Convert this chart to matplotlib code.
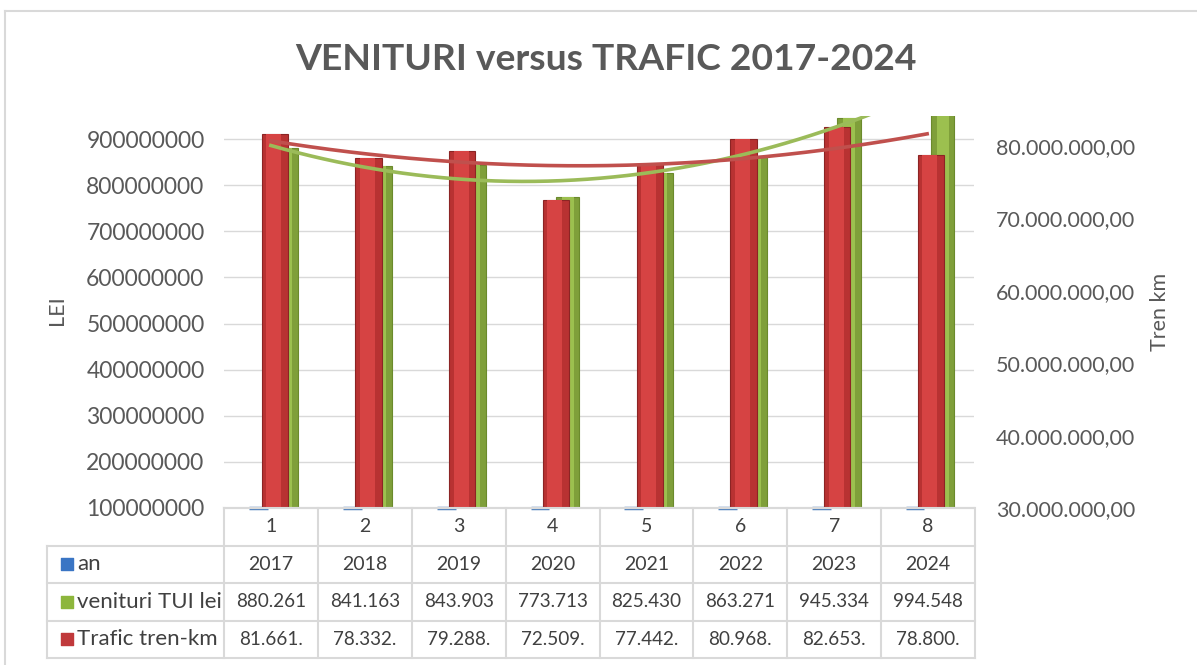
import numpy as np
import matplotlib
matplotlib.use("Agg")
import matplotlib.pyplot as plt
import matplotlib.ticker as mticker

plt.rcParams['font.family'] = ['Lato', 'DejaVu Sans']

# data
categories = [1, 2, 3, 4, 5, 6, 7, 8]
an = [2017, 2018, 2019, 2020, 2021, 2022, 2023, 2024]
venituri = [880261000, 841163000, 843903000, 773713000,
            825430000, 863271000, 945334000, 994548000]
trafic = [81661000, 78332000, 79288000, 72509000,
          77442000, 80968000, 82653000, 78800000]
venituri_txt = ['880.261', '841.163', '843.903', '773.713',
                '825.430', '863.271', '945.334', '994.548']
trafic_txt = ['81.661.', '78.332.', '79.288.', '72.509.',
              '77.442.', '80.968.', '82.653.', '78.800.']
row_labels = ['an', 'venituri TUI lei', 'Trafic tren-km']

GRAY = '#595959'
TXT = '#404040'
LINE = '#d9d9d9'
W, H = 1197, 665

fig = plt.figure(figsize=(W / 100, H / 100), dpi=100, facecolor='w')

# chart border
fig.add_artist(plt.Line2D([5 / W, 5 / W], [0, 1 - 11 / H], color=LINE, lw=1.5))
fig.add_artist(plt.Line2D([5 / W, 1], [1 - 11 / H, 1 - 11 / H], color=LINE, lw=1.5))

x = np.array(categories, dtype=float)
ax = fig.add_axes([224 / W, 1 - 508 / H, 750 / W, 392 / H])
ax2 = ax.twinx()

Y_MIN, Y_MAX = 100e6, 950e6
ax.set_xlim(0.5, 8.5)
ax.set_ylim(Y_MIN, Y_MAX)
ax2.set_ylim(30e6, 84.14e6)

# green bars (left axis), behind
ax.bar(x + 0.165, venituri, width=0.25, color='#7f9f3a', edgecolor='#6b8a2c', lw=0.8, zorder=2)
ax.bar(x + 0.165, venituri, width=0.13, color='#9cc04f', lw=0, zorder=2.1)
# blue "an" bars, a sliver at the floor
ax.bar(x - 0.13, an, width=0.2, bottom=Y_MIN, color='#4f81bd', edgecolor='#4f81bd',
       lw=2.5, clip_on=False, zorder=2)

# red bars (right axis), front
ax2.bar(x + 0.04, trafic, width=0.28, color='#b83232', edgecolor='#8c2424', lw=0.8, zorder=2)
ax2.bar(x + 0.03, trafic, width=0.16, color='#d64343', lw=0, zorder=2.1)

# polynomial (order 2) trendlines
xt = np.linspace(1, 8, 200)
pv = np.polyfit(x, venituri, 2)
pt = np.polyfit(x, trafic, 2)
ax2.plot(xt, np.polyval(pv, xt), color='#9bbb59', lw=2.6, transform=ax.transData, zorder=5)
ax2.plot(xt, np.polyval(pt, xt), color='#c0504d', lw=2.6, zorder=5)

# axes styling
ax.yaxis.set_major_locator(mticker.MultipleLocator(100e6))
ax.yaxis.set_major_formatter(mticker.FuncFormatter(lambda v, p: f"{v:.0f}"))
ax2.yaxis.set_major_locator(mticker.MultipleLocator(10e6))
ax2.yaxis.set_major_formatter(mticker.FuncFormatter(
    lambda v, p: f"{v:,.2f}".replace(',', 'X').replace('.', ',').replace('X', '.')))
ax.grid(axis='y', color=LINE, lw=1)
ax.set_axisbelow(True)
for a in (ax, ax2):
    for s in ('left', 'right', 'top'):
        a.spines[s].set_visible(False)
    a.spines['bottom'].set_color(LINE)
    a.spines['bottom'].set_linewidth(1.5)
    a.tick_params(axis='y', length=0, labelcolor=GRAY)
    a.set_xticks([])
ax.tick_params(axis='y', pad=14, labelsize=16.5)
ax2.tick_params(axis='y', pad=16, labelsize=15.5)

fig.text(57 / W, 1 - 310 / H, 'LEI', rotation=90, ha='center', va='center', fontsize=15.5, color=GRAY)
fig.text(1160 / W, 1 - 312 / H, 'Tren km', rotation=90, ha='center', va='center', fontsize=15.5, color=GRAY)
fig.text(606 / W, 1 - 59 / H, 'VENITURI versus TRAFIC 2017-2024', ha='center', va='center',
         fontsize=26.8, fontweight='bold', color=GRAY)

# data table
tax = fig.add_axes([47 / W, 1 - 658 / H, 928 / W, 150 / H])
left = 0.5 - 177 / 93.75
tax.set_xlim(left, 8.5)
tax.set_ylim(4, 0)
tax.axis('off')
for r in range(1, 5):
    tax.plot([left, 8.5], [r, r], color=LINE, lw=1.5, clip_on=False)
tax.plot([left, left], [1, 4], color=LINE, lw=1.5, clip_on=False)
for c in np.arange(0.5, 9.0, 1.0):
    tax.plot([c, c], [0, 4], color=LINE, lw=1.5, clip_on=False)

for i, c in enumerate(categories):
    tax.text(c, 0.5, str(c), ha='center', va='center', fontsize=14, color=TXT)
    tax.text(c, 1.5, str(an[i]), ha='center', va='center', fontsize=14, color=TXT)
    tax.text(c, 2.5, venituri_txt[i], ha='center', va='center', fontsize=13.6, color=TXT)
    tax.text(c, 3.5, trafic_txt[i], ha='center', va='center', fontsize=13.6, color=TXT)

key_colors = ['#3a75c4', '#8db63c', '#c0393b']
for r, (lab, kc) in enumerate(zip(row_labels, key_colors)):
    tax.scatter([left + 0.208], [r + 1.5], marker='s', s=85, color=kc, clip_on=False)
    tax.text(left + 0.32, r + 1.5, lab, ha='left', va='center', fontsize=16, color=TXT)

fig.savefig('out.png', dpi=100)
